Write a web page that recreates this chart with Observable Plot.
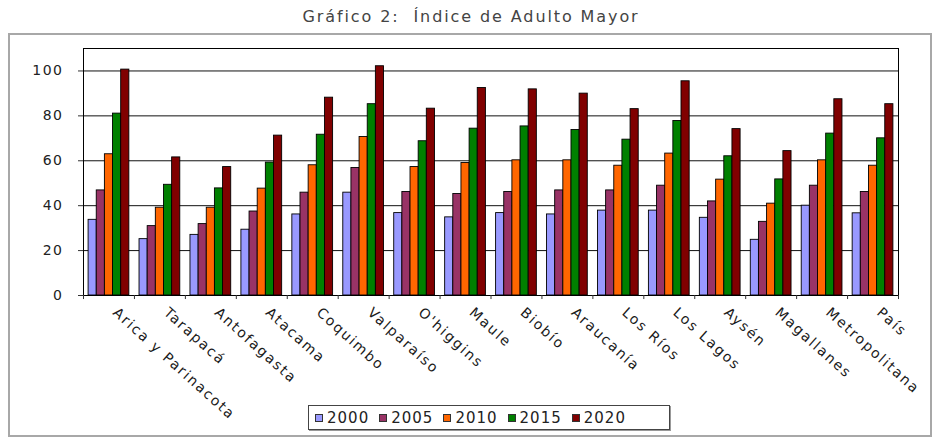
<!DOCTYPE html>
<html><head><meta charset="utf-8">
<script src="https://cdn.jsdelivr.net/npm/d3@7"></script>
<script src="https://cdn.jsdelivr.net/npm/@observablehq/plot@0.6"></script>
<style>
body{margin:0;background:#fff;font-family:"DejaVu Sans",Verdana,sans-serif;}
#wrap{position:relative;width:934px;height:437px;overflow:hidden;background:#fff;}
#title{position:absolute;top:7px;left:4px;width:934px;text-align:center;font-size:16px;letter-spacing:1.9px;color:#444;white-space:pre;}
#frame{position:absolute;left:8px;top:33px;width:924px;height:404px;border:2px solid #a8a8a8;box-sizing:border-box;}
#chart{position:absolute;left:0;top:0;}
#chart text{letter-spacing:1.5px;}
#chart text.lbl{letter-spacing:1.8px;}
#legend{position:absolute;left:308px;top:405px;width:362px;height:25px;border:1px solid #444;box-shadow:1px 1px 0 #999;box-sizing:border-box;display:flex;align-items:center;padding-left:6px;background:#fff;}
.item{display:flex;align-items:center;margin-right:10px;font-size:15px;letter-spacing:1px;color:#222;}
.sw{width:8px;height:8px;border:1px solid #333;margin-right:4px;box-sizing:border-box;}
</style></head>
<body>
<div id="wrap">
  <div id="frame"></div>
  <div id="title"></div>
  <div id="chart"></div>
  <div id="legend"></div>
</div>
<script>
const titleText = "Gráfico 2:  Índice de Adulto Mayor";
const regions = ["Arica y Parinacota","Tarapacá","Antofagasta","Atacama","Coquimbo","Valparaíso","O'higgins","Maule","Biobío","Araucanía","Los Ríos","Los Lagos","Aysén","Magallanes","Metropolitana","País"];
const years = ["2000","2005","2010","2015","2020"];
const colors = ["#9999ff","#993366","#ff6600","#008000","#800000"];
const v2000 = [33.7,25.1,27.0,29.3,36.1,45.8,36.7,34.8,36.7,36.1,37.8,37.8,34.6,24.8,40.0,36.6];
const v2005 = [46.8,30.9,31.8,37.4,45.8,56.8,46.1,45.2,46.1,46.8,46.8,48.9,41.9,32.8,48.9,46.1];
const v2010 = [62.9,39.1,39.1,47.6,58.0,70.6,57.2,59.0,60.2,60.2,57.8,63.2,51.6,40.9,60.2,57.8];
const v2015 = [81.0,49.3,47.7,59.2,71.6,85.2,68.7,74.3,75.3,73.7,69.4,77.7,62.0,51.7,72.1,70.0];
const v2020 = [100.6,61.5,57.2,71.2,88.1,102.1,83.2,92.4,91.8,89.9,83.0,95.4,74.1,64.3,87.4,85.2];
const yTicks = [0,20,40,60,80,100];
const gridTicks = [20,40,60,80,100];

const series = [v2000,v2005,v2010,v2015,v2020];
const data = regions.flatMap((r,i)=>years.map((y,j)=>({region:r,year:y,value:series[j][i]})));

document.getElementById("title").textContent = titleText;

const W=934,H=437,mL=83,mR=36,mT=48,mB=142;
const padInner=0.2;
const step=(W-mL-mR)/regions.length;
const barW=step*(1-padInner)/years.length;

const chart = Plot.plot({
  width:W,height:H,marginLeft:mL,marginRight:mR,marginTop:mT,marginBottom:mB,
  style:{fontFamily:'"DejaVu Sans",Verdana,sans-serif',background:"transparent",color:"#222"},
  x:{domain:regions,paddingInner:padInner,paddingOuter:padInner/2,round:false,axis:null},
  y:{domain:[0,110],axis:null},
  color:{domain:years,range:colors},
  marks:[
    Plot.ruleY(gridTicks,{stroke:"#111",strokeWidth:1}),
    ...years.map((yr,j)=>Plot.barY(data.filter(d=>d.year===yr),{
      x:"region",y:"value",fill:"year",stroke:"#000",strokeWidth:0.9,
      insetLeft:j*barW,insetRight:(years.length-1-j)*barW})),
    Plot.frame({stroke:"#000"}),
    Plot.ruleX(regions,{x:d=>d,y1:0,y2:-1.8,dx:-step/2,stroke:"#333"}),
    Plot.ruleX([regions[regions.length-1]],{x:d=>d,y1:0,y2:-1.8,dx:step/2,stroke:"#333"}),
    Plot.axisY({ticks:yTicks,tickSize:5,tickPadding:15,fontSize:14,stroke:"#333",label:null}),
    Plot.text(regions,{x:d=>d,y:0,text:d=>d,rotate:42,textAnchor:"start",dx:6,dy:15,fontSize:14,fill:"#1a1a1a",className:"lbl"})
  ]
});
chart.querySelectorAll("g[aria-label='text'] text").forEach(t=>t.classList.add("lbl"));
document.getElementById("chart").appendChild(chart);

const lg=document.getElementById("legend");
years.forEach((y,j)=>{
  const it=document.createElement("div");it.className="item";
  const sw=document.createElement("div");sw.className="sw";sw.style.background=colors[j];
  const t=document.createElement("span");t.textContent=y;
  it.appendChild(sw);it.appendChild(t);lg.appendChild(it);
});
</script>
</body></html>
